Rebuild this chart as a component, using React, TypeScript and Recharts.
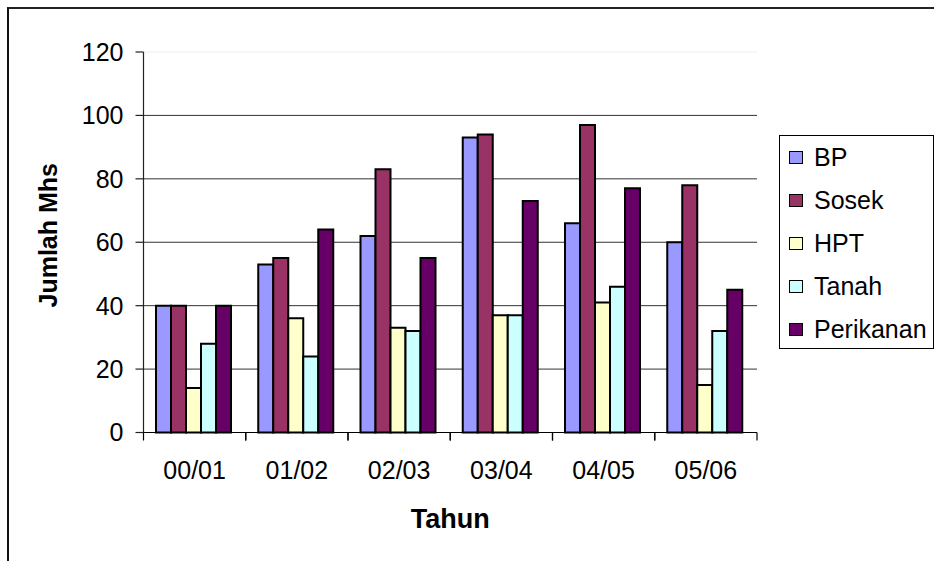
import React from "react"
import { Bar, BarChart, CartesianGrid, Label, Legend, XAxis, YAxis } from "recharts"

const YEARS = ["00/01", "01/02", "02/03", "03/04", "04/05", "05/06"]
const BP = [40, 53, 62, 93, 66, 60]
const SOSEK = [40, 55, 83, 94, 97, 78]
const HPT = [14, 36, 33, 37, 41, 15]
const TANAH = [28, 24, 32, 37, 46, 32]
const PERIKANAN = [40, 64, 55, 73, 77, 45]
const Y_TICKS = [0, 20, 40, 60, 80, 100, 120]

const SERIES = [
  { key: "BP", values: BP, color: "#9999FF" },
  { key: "Sosek", values: SOSEK, color: "#993366" },
  { key: "HPT", values: HPT, color: "#FFFFCC" },
  { key: "Tanah", values: TANAH, color: "#CCFFFF" },
  { key: "Perikanan", values: PERIKANAN, color: "#660066" },
]
const SERIES_ORDER = SERIES.map((s) => s.key)

const data = YEARS.map((year, i) => {
  const row: Record<string, string | number> = { year }
  SERIES.forEach((s) => {
    row[s.key] = s.values[i]
  })
  return row
})

const FONT = "'Liberation Sans', Arial, sans-serif"
const MARGIN = { top: 52, right: 177, bottom: 0, left: 0 }
const TICK_SIZE = 8
const TICK_MARGIN = 21

function XTick(props: any) {
  const { x, y, payload } = props
  const half = payload?.offset ?? 0
  const axisY = y - TICK_MARGIN - TICK_SIZE
  return (
    <g>
      {half > 0 && (
        <>
          <line x1={x - half} x2={x - half} y1={axisY} y2={axisY + TICK_SIZE} stroke="#000" strokeWidth={1.2} />
          <line x1={x + half} x2={x + half} y1={axisY} y2={axisY + TICK_SIZE} stroke="#000" strokeWidth={1.2} />
        </>
      )}
      <text x={x} y={y} dy="0.71em" textAnchor="middle" fill="#000" fontSize={25} fontFamily={FONT}>
        {payload.value}
      </text>
    </g>
  )
}

function GridLine(props: any) {
  const { x1, x2, y1, y2 } = props
  const isTop = y1 <= MARGIN.top + 1
  return <line x1={x1} x2={x2} y1={y1} y2={y2} stroke={isTop ? "#eeeeee" : "#333"} strokeWidth={1} />
}

function LegendBox(props: any) {
  const payload = [...(props.payload ?? [])].sort(
    (a: any, b: any) => SERIES_ORDER.indexOf(a.value) - SERIES_ORDER.indexOf(b.value),
  )
  return (
    <div>
      {payload.map((p: any) => (
        <div key={p.value} style={{ height: 43, display: "flex", alignItems: "center" }}>
          <span
            style={{
              display: "inline-block",
              width: 12,
              height: 11,
              marginLeft: 9,
              marginRight: 11,
              background: p.color,
              border: "1px solid #000",
            }}
          />
          <span style={{ fontSize: 25, fontFamily: FONT, color: "#000", lineHeight: "25px" }}>{p.value}</span>
        </div>
      ))}
    </div>
  )
}

function YTitle(props: any) {
  const vb = props.viewBox
  const cx = 57
  const cy = vb.y + vb.height / 2 - 7
  return (
    <text
      x={cx}
      y={cy}
      transform={`rotate(-90, ${cx}, ${cy})`}
      textAnchor="middle"
      fontSize={25}
      fontWeight="bold"
      fontFamily={FONT}
      fill="#000"
    >
      Jumlah Mhs
    </text>
  )
}

export default function App() {
  return (
    <div style={{ position: "fixed", left: 0, top: 0, width: 934, height: 561, overflow: "hidden", background: "#fff" }}>
      <div
        style={{
          position: "absolute",
          left: 7,
          top: 7,
          width: 1000,
          height: 700,
          borderLeft: "2px solid #111",
          borderTop: "2px solid #222",
        }}
      />
      <div style={{ position: "absolute", left: 0, top: 0 }}>
        <BarChart width={934} height={561} data={data} margin={MARGIN} barCategoryGap={12.5} barGap={0}>
          <CartesianGrid vertical={false} horizontal={(p: any) => <GridLine key={p.key ?? p.index} {...p} />} />
          <XAxis
            dataKey="year"
            height={128.5}
            axisLine={{ stroke: "#000", strokeWidth: 1.2 }}
            tickLine={false}
            tickSize={TICK_SIZE}
            tickMargin={TICK_MARGIN}
            tick={<XTick />}
            interval={0}
          >
            <Label
              value="Tahun"
              position="insideBottom"
              offset={33}
              style={{ fontSize: 27, fontWeight: "bold", fontFamily: FONT, fill: "#000" }}
            />
          </XAxis>
          <YAxis
            width={143.5}
            domain={[0, 120]}
            ticks={Y_TICKS}
            interval={0}
            axisLine={{ stroke: "#222", strokeWidth: 1.2 }}
            tickLine={{ stroke: "#222", strokeWidth: 1.2 }}
            tickSize={TICK_SIZE}
            tickMargin={12}
            tick={{ fontSize: 25, fontFamily: FONT, fill: "#000" }}
          >
            <Label content={(p: any) => <YTitle {...p} />} />
          </YAxis>
          <Legend
            layout="vertical"
            align="center"
            verticalAlign="middle"
            content={(p: any) => <LegendBox {...p} />}
            wrapperStyle={{
              position: "absolute",
              left: 779,
              top: 135,
              width: 155,
              height: 214,
              border: "1.5px solid #000",
              boxSizing: "border-box",
              background: "#fff",
            }}
          />
          {SERIES.map((s) => (
            <Bar
              key={s.key}
              dataKey={s.key}
              fill={s.color}
              stroke="#000"
              strokeWidth={2}
              isAnimationActive={false}
            />
          ))}
        </BarChart>
      </div>
    </div>
  )
}
